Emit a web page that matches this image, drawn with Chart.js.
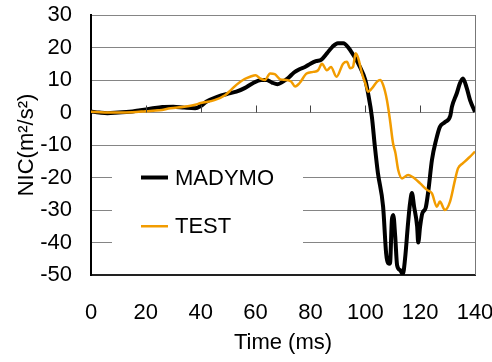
<!DOCTYPE html>
<html>
<head>
<meta charset="utf-8">
<script src="https://cdn.jsdelivr.net/npm/chart.js@4.4.0/dist/chart.umd.min.js"></script>
<style>
  html, body { margin: 0; padding: 0; background: #fff; }
  #wrap { width: 492px; height: 362px; }
</style>
</head>
<body>
<div id="wrap"><canvas id="nicChart" width="492" height="362"></canvas></div>
<script>
// series
const madymoTime = [0, 3, 6, 10, 14, 18, 22, 26, 30, 34, 38, 40, 42, 46, 50, 53, 56, 59, 62, 64, 66, 68, 70, 72, 74, 76, 78, 80, 82, 84, 86, 88, 90, 92, 94, 96, 98, 100, 101, 102.4, 103.5, 104.6, 106.5, 107.6, 108.3, 109, 109.7, 110.2, 110.9, 111.6, 112.7, 113.7, 114.5, 115.6, 116.3, 117, 117.8, 118.9, 119.3, 120, 120.8, 122, 123, 124.3, 125.8, 127.2, 129, 131, 131.6, 133.4, 134.5, 135.6, 137, 138.2, 140];
const madymoNic = [0.3, 0, -0.2, 0, 0.2, 0.7, 1.2, 1.7, 1.8, 1.5, 1.3, 2, 3.3, 4.8, 5.8, 6.4, 7.5, 9, 10, 10, 9.2, 8.7, 9.5, 10.7, 12.3, 13.3, 14, 15, 15.8, 16.3, 18.2, 20.2, 21.3, 21.3, 19.8, 17.2, 14.1, 10, 6, -1.3, -10.5, -18.6, -29, -43.3, -46.3, -46.5, -33, -31.5, -38, -47, -48.5, -49.7, -45, -34, -28, -24.8, -29, -35, -40, -35, -31, -29.4, -24, -14.6, -8.5, -4.4, -3, -1, 1.8, 6, 9, 10.5, 7.5, 3.8, 0.2];

const testTime = [0, 5, 10, 15, 20, 25, 29, 34, 38, 40, 45, 49, 51, 53, 56, 58, 60, 61.6, 63.4, 65.3, 67, 69, 71, 73, 74.4, 76, 78.6, 81, 82.8, 84.2, 86, 87.5, 89.5, 91.9, 93.3, 94.5, 95.5, 96.5, 97.5, 98.8, 100, 101, 102.4, 104.3, 105.4, 106.5, 107.9, 109, 110.1, 111, 112, 113.4, 115.6, 118, 120, 122.5, 124.3, 126.1, 127.2, 129, 130.9, 132.7, 133.8, 135.6, 138.2, 140];
const testNic = [0.2, 0, 0, 0.1, 0.4, 0.7, 1.3, 1.8, 2.4, 2.9, 3.8, 5.4, 6.9, 8.5, 10.3, 11, 11.5, 10.5, 10, 12, 11.8, 10.2, 10, 9.5, 8, 9, 12, 12.5, 13, 15, 13, 14, 11, 15, 15.6, 13.6, 14, 18.2, 16.5, 12, 9, 6.4, 7.4, 9.5, 10, 8.5, 3.8, -2.3, -9.4, -12.5, -17.7, -20.3, -19.2, -20.3, -21.8, -23.8, -24.9, -29, -27.4, -30, -27.4, -20.8, -17.2, -15.6, -13.6, -12];

const seriesNames = ['MADYMO', 'TEST'];
const xTicks = [0, 20, 40, 60, 80, 100, 120, 140];
const yTicks = [30, 20, 10, 0, -10, -20, -30, -40, -50];

const FONT = "'Liberation Sans', Arial, sans-serif";
Chart.defaults.font.family = FONT;
Chart.defaults.color = '#000';

const toPoints = (xs, ys) => xs.map((x, i) => ({ x: x, y: ys[i] }));

// kill the overhang padding chart.js adds for the edge labels
const noPad = s => {
    s.paddingLeft = 0; s.paddingRight = 0; s.paddingTop = 0; s.paddingBottom = 0;
};

// white legend box sitting inside the plot, plus ticks on the zero line and frame
const extras = {
    id: 'extras',
    beforeDatasetsDraw(chart) {
        const ctx = chart.ctx;
        ctx.save();
        ctx.fillStyle = '#fff';
        ctx.fillRect(112, 150, 191, 118);
        ctx.restore();
    },
    afterDatasetsDraw(chart) {
        const ctx = chart.ctx;
        const a = chart.chartArea;
        const xs = chart.scales.x, ys = chart.scales.y;
        ctx.save();
        // frame on the right
        ctx.strokeStyle = '#777';
        ctx.lineWidth = 1;
        ctx.beginPath();
        ctx.moveTo(a.right + 0.5, a.top);
        ctx.lineTo(a.right + 0.5, a.bottom);
        ctx.stroke();
        // small tick marks on the zero line
        const y0 = ys.getPixelForValue(0);
        ctx.strokeStyle = '#444';
        xTicks.forEach(t => {
            if (t === 0 || t === 140) return;
            const px = Math.round(xs.getPixelForValue(t)) + 0.5;
            ctx.beginPath();
            ctx.moveTo(px, y0);
            ctx.lineTo(px, y0 - 7);
            ctx.stroke();
        });
        // legend
        const rows = [ys.getPixelForValue(-20), ys.getPixelForValue(-35)];
        chart.data.datasets.forEach((ds, i) => {
            const yy = rows[i];
            ctx.strokeStyle = ds.borderColor;
            ctx.lineWidth = ds.borderWidth;
            ctx.beginPath();
            ctx.moveTo(141, yy);
            ctx.lineTo(168, yy);
            ctx.stroke();
            ctx.fillStyle = '#000';
            ctx.font = '22px ' + FONT;
            ctx.textBaseline = 'middle';
            ctx.fillText(ds.label, 175, yy + 1);
        });
        ctx.restore();
    }
};

const ctx = document.getElementById('nicChart').getContext('2d');
const nicChart = new Chart(ctx, {
    type: 'line',
    data: {
        datasets: [
            {
                label: seriesNames[0],
                data: toPoints(madymoTime, madymoNic),
                borderColor: '#000',
                borderWidth: 4,
                pointRadius: 0,
                cubicInterpolationMode: 'monotone',
                order: 1
            },
            {
                label: seriesNames[1],
                data: toPoints(testTime, testNic),
                borderColor: '#f29c00',
                borderWidth: 2.5,
                pointRadius: 0,
                cubicInterpolationMode: 'monotone',
                order: 0
            }
        ]
    },
    options: {
        responsive: false,
        animation: false,
        events: [],
        layout: {
            padding: { top: 15, right: 17, left: 0, bottom: 0 }
        },
        plugins: {
            legend: { display: false },
            tooltip: { enabled: false }
        },
        scales: {
            x: {
                type: 'linear',
                min: 0,
                max: 140,
                afterFit: s => { s.height = 87; noPad(s); },
                afterBuildTicks: s => { s.ticks = xTicks.map(v => ({ value: v })); },
                grid: { display: false, drawTicks: false },
                border: { display: true, color: '#222', width: 2 },
                ticks: {
                    padding: 25,
                    font: { size: 22 },
                    color: '#000',
                    maxRotation: 0
                },
                title: {
                    display: true,
                    text: 'Time (ms)',
                    font: { size: 22 },
                    color: '#000',
                    padding: { top: 0, bottom: 6 }
                }
            },
            y: {
                min: -50,
                max: 30,
                afterFit: s => { s.width = 91; noPad(s); },
                afterBuildTicks: s => { s.ticks = yTicks.map(v => ({ value: v })); },
                grid: { color: '#858585', lineWidth: 1, drawTicks: false },
                border: { display: true, color: '#000', width: 2 },
                ticks: {
                    padding: 19,
                    font: { size: 22 },
                    color: '#000'
                },
                title: {
                    display: true,
                    text: 'NIC(m²/s²)',
                    font: { size: 22 },
                    color: '#000',
                    padding: { top: 14, bottom: 0 }
                }
            }
        }
    },
    plugins: [extras]
});
</script>
</body>
</html>
